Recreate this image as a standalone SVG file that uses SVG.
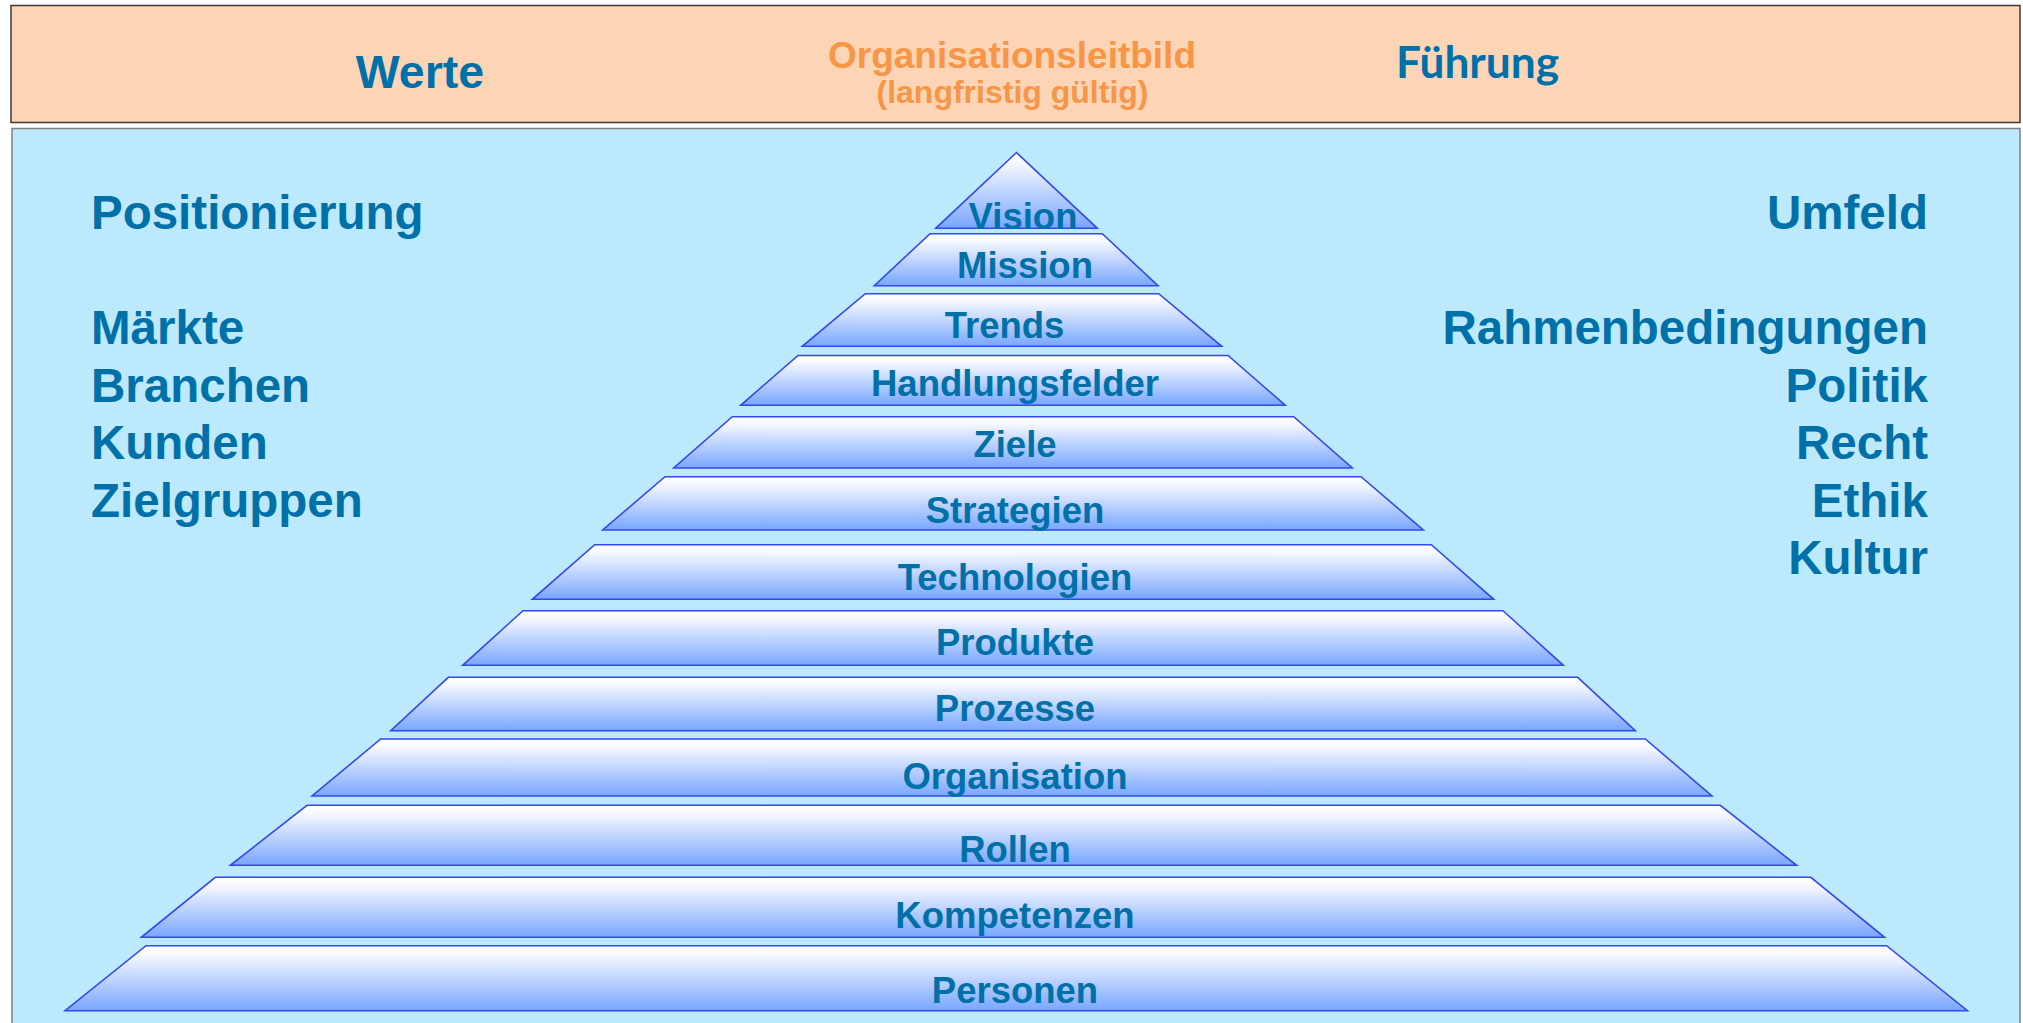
<svg xmlns="http://www.w3.org/2000/svg" width="2023" height="1023" viewBox="0 0 2023 1023">
<defs>
  <linearGradient id="lg" x1="0" y1="0" x2="0" y2="1">
    <stop offset="0" stop-color="#FFFFFF"/>
    <stop offset="0.12" stop-color="#F9FAFF"/>
    <stop offset="1" stop-color="#78A6FF"/>
  </linearGradient>
  <style>
    .layer { fill: url(#lg); stroke: #3347F5; stroke-width: 1.6; stroke-linejoin: miter; }
    .lbl { font-family: "Liberation Sans", Arial, sans-serif; font-weight: bold; font-size: 36.5px; fill: #0070A8; text-anchor: middle; }
    .side { font-family: "Liberation Sans", Arial, sans-serif; font-weight: bold; font-size: 47.5px; fill: #0070A8; }
    .head { font-family: "Liberation Sans", Arial, sans-serif; font-weight: bold; fill: #0070A8; text-anchor: middle; }
    .org { font-family: "Liberation Sans", Arial, sans-serif; font-weight: bold; fill: #F79646; text-anchor: middle; }
  </style>
</defs>

<g id="banner">
  <rect x="11" y="5.5" width="2009" height="117" fill="#FBD5B5" stroke="#3A3A3A" stroke-width="1.5"/>
  <text class="head" x="420" y="88" font-size="46.5">Werte</text>
  <text class="org" x="1012" y="67.5" font-size="37">Organisationsleitbild</text>
  <text class="org" x="1012.5" y="103" font-size="32">(langfristig gültig)</text>
  <text x="1396" y="77.5" font-family="Lato, 'Open Sans', sans-serif" font-weight="bold" font-size="44" fill="#0070A8" textLength="163" lengthAdjust="spacingAndGlyphs">Führung</text>
</g>

<g id="panel">
  <rect x="12" y="128.5" width="2008" height="910" fill="#BDE9FC" stroke="#808080" stroke-width="1.5"/>
</g>

<g id="left-texts">
  <text class="side" x="91" y="229">Positionierung</text>
  <text class="side" x="91" y="344">Märkte</text>
  <text class="side" x="91" y="401.5">Branchen</text>
  <text class="side" x="91" y="459">Kunden</text>
  <text class="side" x="91" y="516.5">Zielgruppen</text>
</g>

<g id="right-texts" text-anchor="end">
  <text class="side" x="1928" y="229">Umfeld</text>
  <text class="side" x="1928" y="344">Rahmenbedingungen</text>
  <text class="side" x="1928" y="401.5">Politik</text>
  <text class="side" x="1928" y="459">Recht</text>
  <text class="side" x="1928" y="516.5">Ethik</text>
  <text class="side" x="1928" y="574">Kultur</text>
</g>

<g id="pyramid">
  <g id="vision">
    <polygon class="layer" points="1016.5,152.5 1097.3,228.3 935.7,228.3"/>
    <text class="lbl" x="1023" y="228.5">Vision</text>
  </g>
  <g id="mission">
    <polygon class="layer" points="930,233.7 1102.3,233.7 1158,285.7 874.3,285.7"/>
    <text class="lbl" x="1025" y="277.5">Mission</text>
  </g>
  <g id="trends">
    <polygon class="layer" points="865.3,293.7 1158.7,293.7 1221.7,346.3 802.3,346.3"/>
    <text class="lbl" x="1004.5" y="338">Trends</text>
  </g>
  <g id="handlungsfelder">
    <polygon class="layer" points="798,355.5 1228,355.5 1285.3,405.3 740.7,405.3"/>
    <text class="lbl" x="1015" y="396">Handlungsfelder</text>
  </g>
  <g id="ziele">
    <polygon class="layer" points="732.3,416.7 1293.7,416.7 1352.3,468 673.7,468"/>
    <text class="lbl" x="1015" y="456.7">Ziele</text>
  </g>
  <g id="strategien">
    <polygon class="layer" points="665,476.7 1361,476.7 1423.3,530 602.7,530"/>
    <text class="lbl" x="1015" y="523.3">Strategien</text>
  </g>
  <g id="technologien">
    <polygon class="layer" points="594.7,544.7 1431.3,544.7 1493.7,599.3 532.3,599.3"/>
    <text class="lbl" x="1015" y="590">Technologien</text>
  </g>
  <g id="produkte">
    <polygon class="layer" points="523,610.7 1503,610.7 1563.3,665.3 462.7,665.3"/>
    <text class="lbl" x="1015" y="655">Produkte</text>
  </g>
  <g id="prozesse">
    <polygon class="layer" points="448.3,677.3 1577.7,677.3 1635.3,730.7 390.7,730.7"/>
    <text class="lbl" x="1015" y="721">Prozesse</text>
  </g>
  <g id="organisation">
    <polygon class="layer" points="380.7,739 1645.3,739 1712,796 312,796"/>
    <text class="lbl" x="1015" y="789">Organisation</text>
  </g>
  <g id="rollen">
    <polygon class="layer" points="307,805.3 1720.3,805.3 1796.6,865.3 230.3,865.3"/>
    <text class="lbl" x="1015" y="861.7">Rollen</text>
  </g>
  <g id="kompetenzen">
    <polygon class="layer" points="215.3,877.3 1810.8,877.3 1884.5,937.3 141.3,937.3"/>
    <text class="lbl" x="1015" y="927.7">Kompetenzen</text>
  </g>
  <g id="personen">
    <polygon class="layer" points="146,945.7 1886.6,945.7 1967.4,1010.7 65,1010.7"/>
    <text class="lbl" x="1015" y="1003.3">Personen</text>
  </g>
</g>

<g id="connectors"/>
</svg>
